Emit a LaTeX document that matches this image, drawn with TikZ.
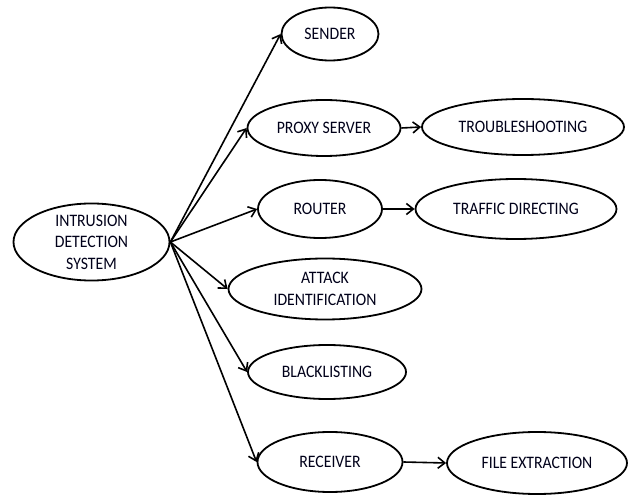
\documentclass[tikz,border=0pt]{standalone}
\usepackage{fontspec}
\setmainfont{Carlito}[FakeStretch=0.9]
\usetikzlibrary{shapes.geometric,arrows.meta}
\begin{document}
\begin{tikzpicture}[x=1pt,y=-1pt,
  ell/.style={ellipse,draw,line width=1.8pt,inner sep=0pt,align=center,
    font=\fontsize{17.5}{21.5}\selectfont,text=black!90!blue},
  arr/.style={line width=1.6pt,-{Straight Barb[length=7pt,width=11pt,line width=1.6pt]}}]
\useasboundingbox (0,0) rectangle (630,497);
\node[ell,minimum width=156pt,minimum height=68pt] (ids) at (91.5,242) {INTRUSION\\DETECTION\\SYSTEM};
\node[ell,minimum width=97pt,minimum height=53pt] (snd) at (330,34) {SENDER};
\node[ell,minimum width=153pt,minimum height=56pt] (prx) at (324,128) {PROXY SERVER};
\node[ell,minimum width=202pt,minimum height=56pt] (trb) at (523,127) {TROUBLESHOOTING};
\node[ell,minimum width=124pt,minimum height=58pt] (rtr) at (320,209) {ROUTER};
\node[ell,minimum width=201pt,minimum height=60pt] (trf) at (516,209) {TRAFFIC DIRECTING};
\node[ell,minimum width=193pt,minimum height=61pt] (att) at (325,289) {ATTACK\\IDENTIFICATION};
\node[ell,minimum width=158pt,minimum height=54pt] (blk) at (327,372) {BLACKLISTING};
\node[ell,minimum width=145pt,minimum height=60pt] (rcv) at (330,462) {RECEIVER};
\node[ell,minimum width=180pt,minimum height=62pt] (fil) at (537,463) {FILE EXTRACTION};
\foreach \t in {snd,prx,rtr,att,blk,rcv} \draw[arr] (ids.east) -- (\t.west);
\draw[arr] (prx.east) -- (trb.west);
\draw[arr] (rtr.east) -- (trf.west);
\draw[arr] (rcv.east) -- (fil.west);
\end{tikzpicture}
\end{document}
